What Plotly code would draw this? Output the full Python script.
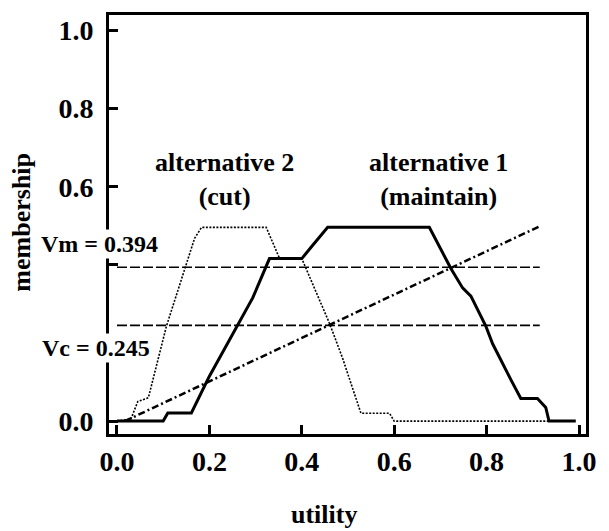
import plotly.graph_objects as go

# ---- data ----
alt1_u = [0.0, 0.10, 0.11, 0.161, 0.20, 0.258, 0.294, 0.33, 0.40, 0.42, 0.456,
          0.676, 0.723, 0.748, 0.766, 0.798, 0.813, 0.853, 0.874, 0.91, 0.928, 0.935, 0.993]
alt1_m = [0.0, 0.0, 0.021, 0.021, 0.115, 0.24, 0.316, 0.416, 0.416, 0.445, 0.496,
          0.496, 0.39, 0.341, 0.32, 0.244, 0.198, 0.105, 0.058, 0.058, 0.035, 0.0, 0.0]

alt2_u = [0.0, 0.03, 0.045, 0.068, 0.107, 0.147, 0.168, 0.183, 0.323, 0.352, 0.40,
          0.46, 0.488, 0.528, 0.59, 0.60, 0.99]
alt2_m = [0.0, 0.005, 0.05, 0.06, 0.243, 0.388, 0.468, 0.496, 0.496, 0.416, 0.416,
          0.25, 0.162, 0.02, 0.02, 0.0, 0.0]

cut_u = [0.0, 0.915]
vm_value = 0.394
vc_value = 0.245

util_u = [0.017, 0.917]
util_m = [0.0, 0.50]

x_ticks = [0.0, 0.2, 0.4, 0.6, 0.8, 1.0]
x_labels = ["0.0", "0.2", "0.4", "0.6", "0.8", "1.0"]
y_ticks = [0.0, 0.2, 0.4, 0.6, 0.8, 1.0]
y_labels = ["0.0", "", "", "0.6", "0.8", "1.0"]

FONT = "Liberation Serif, Times New Roman, DejaVu Serif, serif"

fig = go.Figure()
fig.add_trace(go.Scatter(x=alt2_u, y=alt2_m, mode="lines",
                         line=dict(color="black", width=1.6, dash="2px,1.5px")))
fig.add_trace(go.Scatter(x=alt1_u, y=alt1_m, mode="lines",
                         line=dict(color="black", width=3)))
fig.add_trace(go.Scatter(x=cut_u, y=[vm_value, vm_value], mode="lines",
                         line=dict(color="black", width=1.6, dash="10px,3px")))
fig.add_trace(go.Scatter(x=cut_u, y=[vc_value, vc_value], mode="lines",
                         line=dict(color="black", width=1.6, dash="10px,3px")))
fig.add_trace(go.Scatter(x=util_u, y=util_m, mode="lines",
                         line=dict(color="black", width=2.5, dash="7px,3px,2px,3px")))

axis_common = dict(showline=True, linewidth=3, linecolor="black", mirror=True,
                   ticks="inside", ticklen=9, tickwidth=3, tickcolor="black",
                   showgrid=False, zeroline=False,
                   tickfont=dict(family=FONT, size=28, color="black", weight="bold"))

fig.update_xaxes(range=[-0.0173, 1.0151], tickvals=x_ticks, ticktext=x_labels,
                 ticklabelstandoff=0, **axis_common)
fig.update_yaxes(range=[-0.033, 1.0397], tickvals=y_ticks, ticktext=y_labels,
                 ticklabelstandoff=7, **axis_common)

ann_font = dict(family=FONT, size=26, color="black", weight="bold")
fig.add_annotation(x=0.232, y=0.619, xref="x", yref="y", showarrow=False,
                   xanchor="center", yanchor="middle",
                   text="alternative 2<br>(cut)", font=ann_font, align="center")
fig.add_annotation(x=0.695, y=0.619, xref="x", yref="y", showarrow=False,
                   xanchor="center", yanchor="middle",
                   text="alternative 1<br>(maintain)", font=ann_font, align="center")
fig.add_annotation(x=-0.0209, y=0.4526, xref="paper", yref="paper", showarrow=False,
                   xanchor="center", yanchor="middle",
                   text="Vm = 0.394", font=dict(family=FONT, size=24, color="black", weight="bold"),
                   bgcolor="white", borderpad=1)
fig.add_annotation(x=-0.0272, y=0.206, xref="paper", yref="paper", showarrow=False,
                   xanchor="center", yanchor="middle",
                   text="Vc = 0.245", font=dict(family=FONT, size=24, color="black", weight="bold"),
                   bgcolor="white", borderpad=1)
fig.add_annotation(x=-0.184, y=0.505, xref="paper", yref="paper", showarrow=False,
                   xanchor="center", yanchor="middle", text="membership", textangle=-90,
                   font=dict(family=FONT, size=26, color="black", weight="bold"))
fig.add_annotation(x=0.45, y=-0.192, xref="paper", yref="paper", showarrow=False,
                   xanchor="center", yanchor="middle", text="utility",
                   font=dict(family=FONT, size=26, color="black", weight="bold"))

fig.update_layout(width=609, height=531, showlegend=False,
                  margin=dict(l=109, r=22, t=12, b=97),
                  plot_bgcolor="white", paper_bgcolor="white")

fig.write_html("out.html")
